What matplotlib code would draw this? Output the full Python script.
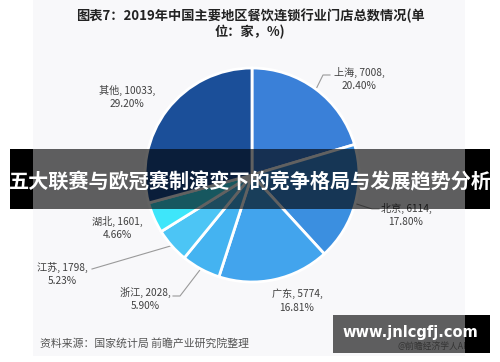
import numpy as np
import matplotlib.pyplot as plt
from matplotlib.patches import Rectangle

plt.rcParams['font.family'] = ['Noto Sans CJK SC', 'DejaVu Sans']

# data
regions = ['上海', '北京', '广东', '浙江', '江苏', '湖北', '其他']
stores = [7008, 6114, 5774, 2028, 1798, 1601, 10033]
shares = ['20.40%', '17.80%', '16.81%', '5.90%', '5.23%', '4.66%', '29.20%']
colors = ['#3a80d8', '#3b8fe0', '#42a4ed', '#44b3f1', '#4cc5f5', '#3ee6fa', '#1b4f99']

title = '图表7：2019年中国主要地区餐饮连锁行业门店总数情况(单\n位：家，%)'
banner = '五大联赛与欧冠赛制演变下的竞争格局与发展趋势分析'
source = '资料来源：国家统计局 前瞻产业研究院整理'
site = 'www.jnlcgfj.com'

# layout, in image pixels (y from the top)
W, H = 500, 362
cx, cy, r = 252, 175, 107
label_pos = [(359, 79), (406, 215), (297, 301), (145, 299), (62, 274), (117, 228), (127, 97)]
# leader elbows per label (None = no leader)
elbows = [[(323, 75), (330, 75)], [(372, 209), (379, 209)], None,
          [(180, 296), (173, 296)], [(92, 269)], None, None]


def Y(y):
   return H - y


fig = plt.figure(figsize=(W / 100, H / 100), dpi=100)
fig.patch.set_facecolor('white')
ax = fig.add_axes([0, 0, 1, 1])

# chart image background
ax.add_patch(Rectangle((33, Y(356)), 432, 356, facecolor='#f8f8fa', edgecolor='none', zorder=0))

wedges, _ = ax.pie(stores, colors=colors, startangle=90, counterclock=False,
                   center=(cx, Y(cy)), radius=r, frame=True,
                   wedgeprops=dict(edgecolor='white', linewidth=2))
for w in wedges:
   w.set_zorder(2)

for i, w in enumerate(wedges):
   lx, ly = label_pos[i]
   ax.text(lx, Y(ly), '{}, {},\n{}'.format(regions[i], stores[i], shares[i]),
           ha='center', va='center', fontsize=7.3, color='#404040', linespacing=1.45, zorder=3)
   if elbows[i] is not None:
      mid = np.deg2rad((w.theta1 + w.theta2) / 2)
      px = [cx + r * np.cos(mid)] + [p[0] for p in elbows[i]]
      py = [Y(cy) + r * np.sin(mid)] + [Y(p[1]) for p in elbows[i]]
      ax.plot(px, py, color='#9a9a9a', linewidth=0.8, zorder=1)

ax.text(250, Y(24), title, ha='center', va='center', fontsize=9.5, fontweight='bold',
        color='#222222', linespacing=1.1, zorder=3)
ax.text(40, Y(343), source, ha='left', va='center', fontsize=7.8, color='#555555', zorder=3)
# faint credit that sits under the site mark
ax.text(398, Y(346), '@前瞻经济学人APP', ha='left', va='center', fontsize=6.3, color='#888888', zorder=3)

# banner over the chart
ax.add_patch(Rectangle((33, Y(209)), 432, 60, facecolor='black', alpha=0.62, edgecolor='none', zorder=5))
ax.add_patch(Rectangle((10, Y(209)), 23, 60, facecolor='black', edgecolor='none', zorder=5))
ax.add_patch(Rectangle((465, Y(209)), 25, 60, facecolor='black', edgecolor='none', zorder=5))
ax.text(250, Y(182), banner, ha='center', va='center', fontsize=14.5, fontweight='bold',
        color='white', zorder=6)

# site mark, bottom right
ax.add_patch(Rectangle((333, Y(353)), 132, 38, facecolor='black', alpha=0.62, edgecolor='none', zorder=5))
ax.add_patch(Rectangle((465, Y(353)), 25, 38, facecolor='black', edgecolor='none', zorder=5))
ax.text(410, Y(333), site, ha='center', va='center', fontsize=10.5, fontweight='bold',
        color='white', family='DejaVu Sans', zorder=6)

ax.set_xlim(0, W)
ax.set_ylim(0, H)
ax.set_aspect('auto')
ax.axis('off')

fig.savefig('out.png', dpi=100, facecolor='white')
